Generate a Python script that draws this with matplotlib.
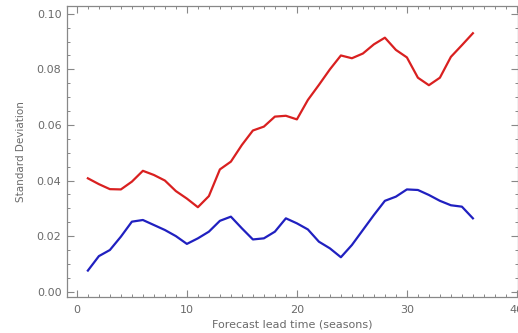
import matplotlib
matplotlib.use("Agg")
import matplotlib.pyplot as plt
from matplotlib.ticker import MultipleLocator, FormatStrFormatter

lead = list(range(1, 37))
red_sd = [0.0408, 0.0387, 0.0369, 0.0368, 0.0396, 0.0435, 0.0420, 0.0400, 0.0362, 0.0335,
          0.0304, 0.0344, 0.0440, 0.0468, 0.0528, 0.0580, 0.0594, 0.0630, 0.0633, 0.0620,
          0.0690, 0.0744, 0.0800, 0.0850, 0.0840, 0.0857, 0.0890, 0.0914, 0.0870, 0.0843,
          0.0770, 0.0743, 0.0770, 0.0845, 0.0887, 0.0930]
blue_sd = [0.0076, 0.0128, 0.0150, 0.0198, 0.0252, 0.0258, 0.0240, 0.0222, 0.0200, 0.0172,
           0.0192, 0.0216, 0.0255, 0.0270, 0.0228, 0.0188, 0.0192, 0.0216, 0.0264, 0.0246,
           0.0224, 0.0180, 0.0156, 0.0124, 0.0168, 0.0222, 0.0276, 0.0327, 0.0342, 0.0368,
           0.0366, 0.0348, 0.0327, 0.0311, 0.0306, 0.0264]

txt = "#6a6a6a"
fig = plt.figure(figsize=(5.18, 3.33), dpi=100)
ax = fig.add_axes([0.1293, 0.109, 0.8707, 0.873])
ax.plot(lead, red_sd, color="#d92020", lw=1.6)
ax.plot(lead, blue_sd, color="#2020c0", lw=1.6)
ax.set_xlim(-0.9, 40.1)
ax.set_ylim(-0.0018, 0.1028)
ax.xaxis.set_major_locator(MultipleLocator(10))
ax.xaxis.set_minor_locator(MultipleLocator(1))
ax.yaxis.set_major_locator(MultipleLocator(0.02))
ax.yaxis.set_minor_locator(MultipleLocator(0.005))
ax.yaxis.set_major_formatter(FormatStrFormatter("%.2f"))
ax.tick_params(which="both", direction="in", top=True, right=True, colors="#888888",
               labelcolor=txt, labelsize=8)
ax.tick_params(which="major", length=5, width=0.8)
ax.tick_params(which="minor", length=2.5, width=0.7)
ax.tick_params(axis="x", pad=6)
ax.tick_params(axis="y", pad=4)
for s in ax.spines.values():
    s.set_color("#888888")
    s.set_linewidth(0.9)
ax.set_xlabel("Forecast lead time (seasons)", color=txt, fontsize=8, labelpad=3)
ax.set_ylabel("Standard Deviation", color=txt, fontsize=7.5, labelpad=8)
fig.savefig("out.png", dpi=100)
